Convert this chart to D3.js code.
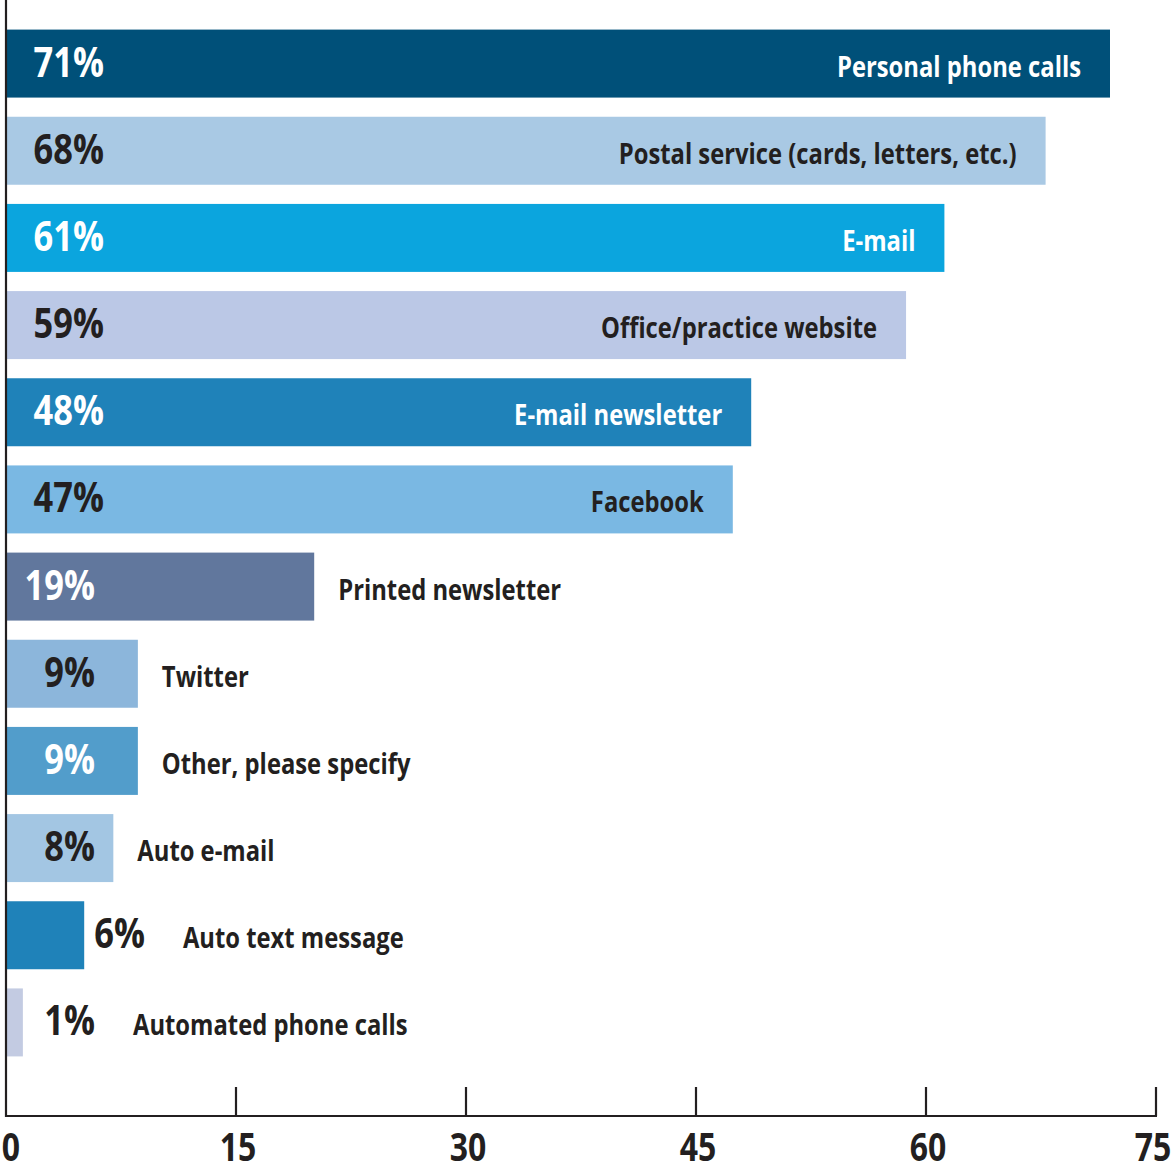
<!DOCTYPE html>
<html>
<head>
<meta charset="utf-8">
<script src="https://cdn.jsdelivr.net/npm/d3@7"></script>
<style>
  html, body { margin: 0; padding: 0; background: #ffffff; }
  svg { display: block; }
  text { font-family: "Open Sans", "Noto Sans", sans-serif; font-weight: 700; }
</style>
</head>
<body>
<svg id="chart" width="1175" height="1172"></svg>
<script>
// ---- data ----
const categories = [
  "Personal phone calls",
  "Postal service (cards, letters, etc.)",
  "E-mail",
  "Office/practice website",
  "E-mail newsletter",
  "Facebook",
  "Printed newsletter",
  "Twitter",
  "Other, please specify",
  "Auto e-mail",
  "Auto text message",
  "Automated phone calls"
];
// bar lengths as drawn in the picture
const values = [72.0, 67.8, 61.2, 58.7, 48.6, 47.4, 20.1, 8.6, 8.6, 7.0, 5.1, 1.1];
// printed percentage labels
const percentLabels = ["71%", "68%", "61%", "59%", "48%", "47%", "19%", "9%", "9%", "8%", "6%", "1%"];
const barColors = ["#005079", "#a9c9e4", "#0ba5de", "#bbc8e6", "#1f82b9", "#7ab8e3",
                   "#61779d", "#8cb6db", "#529dcb", "#a3c6e3", "#1f82b9", "#c3cbe2"];
const tickValues = [0, 15, 30, 45, 60, 75];

// ---- layout ----
const svg = d3.select("#chart");
const ink = "#231f20";
const x = d3.scaleLinear().domain([0, 75]).range([6, 1156]);
const y = d3.scaleBand().domain(d3.range(categories.length)).range([20, 1066])
  .paddingInner(0.22).paddingOuter(0.11);
const axisY = 1116;

const isDark = c => d3.lab(c).l < 66;
const rows = categories.map((c, i) => ({ i, cat: c, v: values[i], pct: percentLabels[i], color: barColors[i] }));

// bars
svg.append("g").selectAll("rect").data(rows).join("rect")
  .attr("x", x(0))
  .attr("y", d => y(d.i))
  .attr("width", d => x(d.v) - x(0))
  .attr("height", y.bandwidth())
  .attr("fill", d => d.color);

// text helper with horizontal condensing
const PCT_SIZE = 41, CAT_SIZE = 28, TICK_SIZE = 39;
const PCT_SX = 0.84, CAT_SX = 0.85, TICK_SX = 0.82;
function addText(g, str, px, py, size, sx, anchor, fill) {
  return g.append("text")
    .attr("transform", `translate(${px},${py}) scale(${sx},1)`)
    .attr("text-anchor", anchor)
    .attr("font-size", size)
    .attr("fill", fill)
    .text(str);
}

const labels = svg.append("g");
rows.forEach(d => {
  const base = y(d.i) + 47;
  const barEnd = x(d.v);
  let pctEnd;
  if (barEnd > 60 && barEnd < 100) {
    // percentage placed just after a short bar
    const t = addText(labels, d.pct, barEnd + 10, base, PCT_SIZE, PCT_SX, "start", ink);
    pctEnd = barEnd + 10 + t.node().getComputedTextLength() * PCT_SX;
  } else {
    pctEnd = d.v >= 40 ? 104 : 95;
    const inside = barEnd >= pctEnd;
    addText(labels, d.pct, pctEnd, base, PCT_SIZE, PCT_SX, "end",
      inside && isDark(d.color) ? "#ffffff" : ink);
  }
  if (d.v >= 40) {
    addText(labels, d.cat, barEnd - 29, base, CAT_SIZE, CAT_SX, "end",
      isDark(d.color) ? "#ffffff" : ink);
  } else {
    const cx = Math.max(barEnd + 24, pctEnd + 38);
    addText(labels, d.cat, cx, base, CAT_SIZE, CAT_SX, "start", ink);
  }
});

// axes
const axisG = svg.append("g");
axisG.append("line")
  .attr("x1", x(0)).attr("x2", x(0)).attr("y1", 0).attr("y2", axisY + 1)
  .attr("stroke", ink).attr("stroke-width", 2.2);
axisG.append("line")
  .attr("x1", x(0) - 1).attr("x2", x(75) + 1).attr("y1", axisY).attr("y2", axisY)
  .attr("stroke", ink).attr("stroke-width", 2.2);
axisG.selectAll("line.tick").data(tickValues.slice(1)).join("line")
  .attr("class", "tick")
  .attr("x1", d => x(d)).attr("x2", d => x(d))
  .attr("y1", axisY - 29).attr("y2", axisY)
  .attr("stroke", ink).attr("stroke-width", 2.2);
tickValues.forEach(t => {
  const tx = t === 0 ? x(0) + 5 : (t === 75 ? x(75) - 3 : x(t) + 2);
  addText(axisG, String(t), tx, 1161, TICK_SIZE, TICK_SX, "middle", ink);
});
</script>
</body>
</html>
